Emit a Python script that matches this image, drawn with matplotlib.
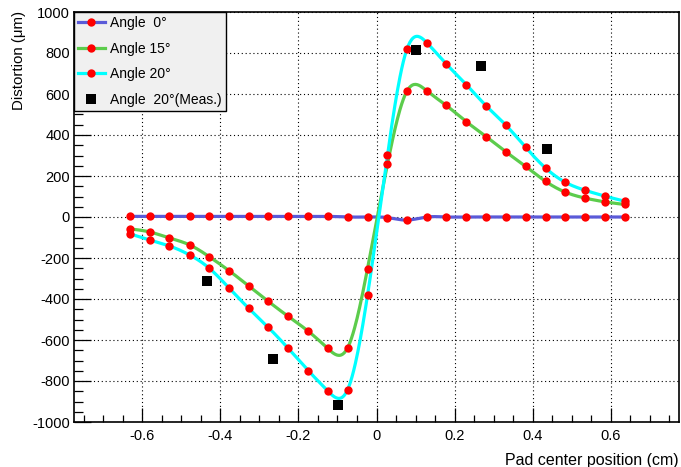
import numpy as np
import matplotlib
matplotlib.use('Agg')
import matplotlib.pyplot as plt
from matplotlib.lines import Line2D
from matplotlib.ticker import MultipleLocator, FuncFormatter

plt.rcParams['font.family'] = ['Liberation Sans', 'DejaVu Sans']
plt.rcParams['axes.unicode_minus'] = False

# pad center positions (cm)
x = [-0.632, -0.581, -0.531, -0.479, -0.429, -0.377, -0.327, -0.277, -0.226,
     -0.175, -0.125, -0.074, -0.023, 0.028, 0.078, 0.129, 0.179, 0.230,
     0.281, 0.332, 0.382, 0.433, 0.484, 0.535, 0.585, 0.636]

# distortion (um)
angle0 = [3, 3, 3, 3, 3, 3, 3, 3, 3, 3, 3, 0, 0,
          -3, -15, 0, 0, 0, 0, 0, 0, 0, 0, 0, 0, 0]
angle15 = [-58, -73, -102, -136, -193, -263, -337, -412, -485, -557, -641, -638, -252,
           257, 614, 615, 544, 465, 392, 317, 247, 174, 121, 92, 74, 61]
angle20 = [-82, -112, -141, -185, -249, -348, -446, -539, -641, -749, -848, -842, -382,
           302, 819, 850, 746, 646, 542, 447, 340, 239, 169, 130, 102, 77]

# measured, 20 deg
meas_x = [-0.433, -0.266, -0.098, 0.102, 0.269, 0.438]
meas_y = [-314, -695, -917, 814, 739, 332]

labels = ['Angle  0°', 'Angle 15°', 'Angle 20°', 'Angle  20°(Meas.)']
colors = ['#5a5ad8', '#5ccc4c', '#00ffff']


def spline(xp, yp, n=600):
    # natural cubic spline through the points, for the smooth curve
    xp = np.asarray(xp, float)
    yp = np.asarray(yp, float)
    h = np.diff(xp)
    m = len(xp)
    A = np.zeros((m, m))
    r = np.zeros(m)
    A[0, 0] = A[-1, -1] = 1
    for i in range(1, m - 1):
        A[i, i - 1] = h[i - 1]
        A[i, i] = 2 * (h[i - 1] + h[i])
        A[i, i + 1] = h[i]
        r[i] = 3 * ((yp[i + 1] - yp[i]) / h[i] - (yp[i] - yp[i - 1]) / h[i - 1])
    c = np.linalg.solve(A, r)
    b = (yp[1:] - yp[:-1]) / h - h * (2 * c[:-1] + c[1:]) / 3
    d = (c[1:] - c[:-1]) / (3 * h)
    xs = np.linspace(xp[0], xp[-1], n)
    k = np.clip(np.searchsorted(xp, xs) - 1, 0, m - 2)
    dx = xs - xp[k]
    ys = yp[k] + b[k] * dx + c[k] * dx ** 2 + d[k] * dx ** 3
    return xs, ys


fig = plt.figure(figsize=(6.81, 4.67), dpi=100)
ax = fig.add_axes([74 / 681, 45 / 467, 605 / 681, 410 / 467])

handles = []
for ys, col in zip([angle0, angle15, angle20], colors):
    sx, sy = spline(x, ys)
    ax.plot(sx, sy, color=col, lw=2.3, zorder=3)
    ax.plot(x, ys, 'o', color='red', ms=6, mew=0, zorder=4)
    handles.append(Line2D([], [], color=col, lw=2.3, marker='o', ms=6,
                          mfc='red', mec='red', mew=0))

ax.plot(meas_x, meas_y, 's', color='black', ms=6.5, mew=0, zorder=5)
handles.append(Line2D([], [], ls='none', marker='s', ms=6.5, color='black', mew=0))

ax.set_xlim(-0.775, 0.775)
ax.set_ylim(-1000, 1000)
ax.xaxis.set_major_locator(MultipleLocator(0.2))
ax.xaxis.set_minor_locator(MultipleLocator(0.05))
ax.yaxis.set_major_locator(MultipleLocator(200))
ax.yaxis.set_minor_locator(MultipleLocator(50))
ax.xaxis.set_major_formatter(FuncFormatter(lambda v, p: '%g' % round(v, 2)))
ax.yaxis.set_major_formatter(FuncFormatter(lambda v, p: '%d' % round(v)))

ax.tick_params(axis='both', which='both', direction='in', labelsize=10.5,
               top=False, right=False, width=0.9, color='black')
ax.tick_params(axis='x', which='major', length=10, pad=5)
ax.tick_params(axis='x', which='minor', length=5)
ax.tick_params(axis='y', which='major', length=12.5, pad=3)
ax.tick_params(axis='y', which='minor', length=6.5)

ax.grid(True, which='major', color='black', ls=(0, (1, 2.5)), lw=0.8)
ax.set_axisbelow(True)
for s in ax.spines.values():
    s.set_linewidth(1.2)

ax.set_xlabel('Pad center position (cm)', fontsize=11.5, loc='right')
ax.xaxis.set_label_coords(1.0, -0.076)
ax.set_ylabel('Distortion (μm)', fontsize=10.8, loc='top')
ax.yaxis.set_label_coords(-0.079, 1.002)

leg = ax.legend(handles, labels, loc='upper left', bbox_to_anchor=(0, 1),
                borderaxespad=0, fontsize=10, frameon=True, fancybox=False,
                facecolor='#f0f0f0', edgecolor='black', framealpha=1,
                handlelength=1.9, handletextpad=0.4, labelspacing=0.83,
                borderpad=0.3, numpoints=1)
leg.get_frame().set_linewidth(1.0)
leg.set_zorder(10)

fig.savefig('out.png', dpi=100)
